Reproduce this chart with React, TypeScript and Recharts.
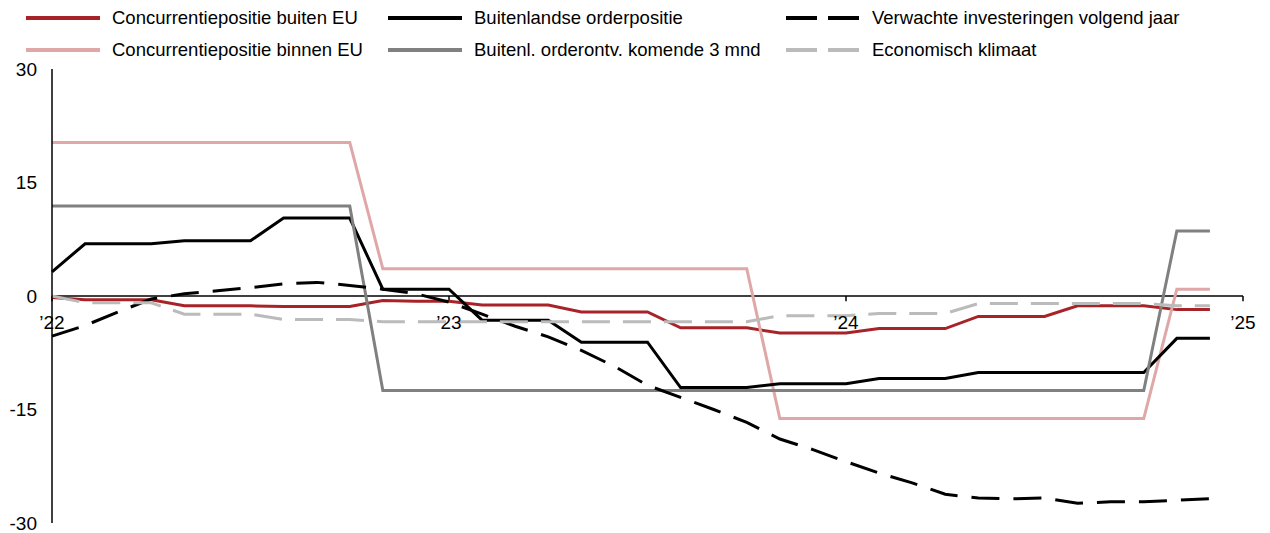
import { LineChart, Line, XAxis, YAxis, ReferenceLine, Legend } from 'recharts';

const months = [
  'jan 2022', 'feb 2022', 'mrt 2022', 'apr 2022', 'mei 2022', 'jun 2022',
  'jul 2022', 'aug 2022', 'sep 2022', 'okt 2022', 'nov 2022', 'dec 2022',
  'jan 2023', 'feb 2023', 'mrt 2023', 'apr 2023', 'mei 2023', 'jun 2023',
  'jul 2023', 'aug 2023', 'sep 2023', 'okt 2023', 'nov 2023', 'dec 2023',
  'jan 2024', 'feb 2024', 'mrt 2024', 'apr 2024', 'mei 2024', 'jun 2024',
  'jul 2024', 'aug 2024', 'sep 2024', 'okt 2024', 'nov 2024', 'dec 2024',
];

const concBuitenEU = [
  -0.2, -0.5, -0.5, -0.5, -1.3, -1.3, -1.3, -1.4, -1.4, -1.4, -0.6, -0.7,
  -0.7, -1.2, -1.2, -1.2, -2.1, -2.1, -2.1, -4.2, -4.2, -4.2, -4.9, -4.9,
  -4.9, -4.3, -4.3, -4.3, -2.7, -2.7, -2.7, -1.3, -1.3, -1.3, -1.8, -1.8,
];
const concBinnenEU = [
  20.3, 20.3, 20.3, 20.3, 20.3, 20.3, 20.3, 20.3, 20.3, 20.3, 3.6, 3.6,
  3.6, 3.6, 3.6, 3.6, 3.6, 3.6, 3.6, 3.6, 3.6, 3.6, -16.2, -16.2,
  -16.2, -16.2, -16.2, -16.2, -16.2, -16.2, -16.2, -16.2, -16.2, -16.2, 0.9, 0.9,
];
const orderpositie = [
  3.2, 6.9, 6.9, 6.9, 7.3, 7.3, 7.3, 10.3, 10.3, 10.3, 0.9, 0.9,
  0.9, -3.2, -3.2, -3.2, -6.1, -6.1, -6.1, -12.1, -12.1, -12.1, -11.6, -11.6,
  -11.6, -10.9, -10.9, -10.9, -10.1, -10.1, -10.1, -10.1, -10.1, -10.1, -5.6, -5.6,
];
const orderontvangst = [
  11.9, 11.9, 11.9, 11.9, 11.9, 11.9, 11.9, 11.9, 11.9, 11.9, -12.5, -12.5,
  -12.5, -12.5, -12.5, -12.5, -12.5, -12.5, -12.5, -12.5, -12.5, -12.5, -12.5, -12.5,
  -12.5, -12.5, -12.5, -12.5, -12.5, -12.5, -12.5, -12.5, -12.5, -12.5, 8.6, 8.6,
];
const investeringen = [
  -5.3, -3.9, -2.1, -0.4, 0.3, 0.7, 1.1, 1.6, 1.8, 1.4, 0.9, 0.3,
  -0.8, -2.4, -4.0, -5.4, -7.2, -9.3, -11.8, -13.4, -15.0, -16.7, -18.9, -20.3,
  -21.9, -23.4, -24.7, -26.2, -26.7, -26.8, -26.7, -27.4, -27.2, -27.2, -27.0, -26.8,
];
const klimaat = [
  0, -0.9, -0.9, -0.9, -2.4, -2.4, -2.4, -3.1, -3.1, -3.1, -3.4, -3.4,
  -3.4, -3.4, -3.4, -3.4, -3.4, -3.4, -3.4, -3.4, -3.4, -3.4, -2.6, -2.6,
  -2.6, -2.3, -2.3, -2.3, -1.0, -1.0, -1.0, -1.0, -1.0, -1.0, -1.3, -1.3,
];

const yearTicks = [0, 12, 24, 36];
const yearLabels = ['’22', '’23', '’24', '’25'];
const yTicks = [-30, -15, 0, 15, 30];

type Serie = { key: string; name: string; color: string; dash?: string };

// volgorde waarin de lijnen getekend worden
const series: Serie[] = [
  { key: 'buiten', name: 'Concurrentiepositie buiten EU', color: '#a82327' },
  { key: 'binnen', name: 'Concurrentiepositie binnen EU', color: '#dfa7a7' },
  { key: 'order', name: 'Buitenlandse orderpositie', color: '#000000' },
  { key: 'ontv', name: 'Buitenl. orderontv. komende 3 mnd', color: '#808080' },
  { key: 'invest', name: 'Verwachte investeringen volgend jaar', color: '#000000', dash: '28 14' },
  { key: 'klimaat', name: 'Economisch klimaat', color: '#bbbbbb', dash: '28 13' },
];
const legendOrder = ['buiten', 'order', 'invest', 'binnen', 'ontv', 'klimaat'];

const data = months.map((m, i) => ({
  idx: i,
  month: m,
  buiten: concBuitenEU[i],
  binnen: concBinnenEU[i],
  order: orderpositie[i],
  ontv: orderontvangst[i],
  invest: investeringen[i],
  klimaat: klimaat[i],
}));

const FONT = 'Arial, "Liberation Sans", sans-serif';

function ChartLegend() {
  return (
    <div
      style={{
        height: 56,
        display: 'grid',
        gridTemplateColumns: '362px 398px 1fr',
        paddingLeft: 18,
        fontFamily: FONT,
        fontSize: 18.5,
        lineHeight: '32px',
        color: '#000',
      }}
    >
      {legendOrder.map((k) => {
        const s = series.find((x) => x.key === k)!;
        return (
          <div key={k} style={{ display: 'flex', alignItems: 'center', whiteSpace: 'nowrap' }}>
            <svg width={74} height={8} style={{ marginRight: 12 }}>
              <line x1={0} y1={4} x2={74} y2={4} stroke={s.color} strokeWidth={4} strokeDasharray={s.dash ? '31 11' : undefined} />
            </svg>
            <span>{s.name}</span>
          </div>
        );
      })}
    </div>
  );
}

export default function App() {
  return (
    <div>
      <style>{'body { overflow: hidden; } .recharts-surface { overflow: visible; }'}</style>
      <LineChart width={1254} height={525} data={data} margin={{ top: 5, right: 19, bottom: 10, left: 4 }}>
        <Legend verticalAlign="top" align="left" content={() => <ChartLegend />} wrapperStyle={{ top: -6, left: 0, width: 1254 }} />
        <XAxis type="number" dataKey="idx" domain={[0, 36]} hide />
        <YAxis
          domain={[-30, 30]}
          ticks={yTicks}
          interval={0}
          width={40}
          tickLine={false}
          tickSize={0}
          tickMargin={15}
          axisLine={{ stroke: '#000', strokeWidth: 1.5 }}
          tick={{ fill: '#000', fontSize: 19, fontFamily: FONT }}
        />
        <ReferenceLine y={0} stroke="#000" strokeWidth={1.5} />
        {yearTicks.map((t, i) => (
          <ReferenceLine
            key={t}
            segment={[{ x: t, y: 0 }, { x: t, y: -0.7 }]}
            stroke="#000"
            strokeWidth={1.5}
            label={{ value: yearLabels[i], position: 'bottom', offset: 14, fill: '#000', fontSize: 19, fontFamily: FONT }}
          />
        ))}
        {series.map((s) => (
          <Line
            key={s.key}
            type="linear"
            dataKey={s.key}
            name={s.name}
            stroke={s.color}
            strokeWidth={3}
            strokeDasharray={s.dash}
            dot={false}
            activeDot={false}
            isAnimationActive={false}
          />
        ))}
      </LineChart>
    </div>
  );
}
